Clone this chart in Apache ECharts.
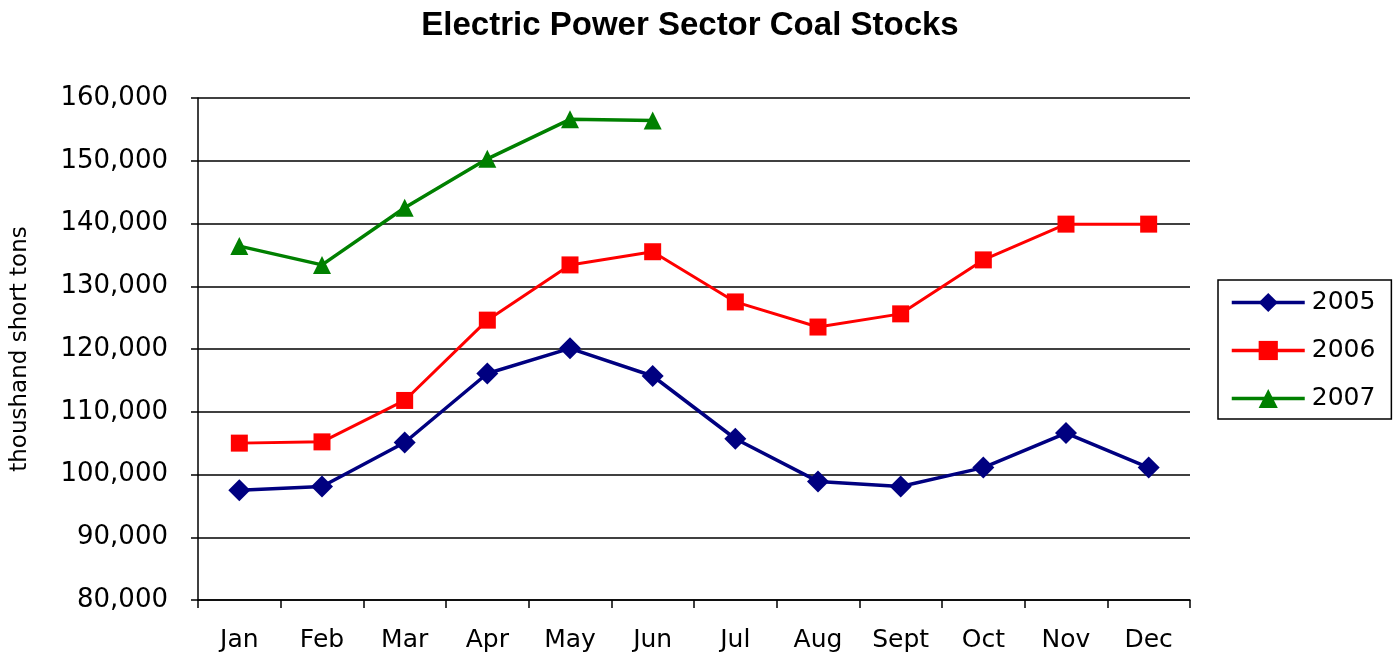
<!DOCTYPE html>
<html>
<head>
<meta charset="utf-8">
<script src="https://cdn.jsdelivr.net/npm/echarts@6/dist/echarts.min.js"></script>
<style>
  html, body { margin: 0; padding: 0; background: #fff; }
  #main { width: 1397px; height: 660px; }
</style>
</head>
<body>
<div id="main"></div>
<script>
// months on the x axis
const months = ['Jan', 'Feb', 'Mar', 'Apr', 'May', 'Jun', 'Jul', 'Aug', 'Sept', 'Oct', 'Nov', 'Dec'];
// thousand short tons
const stocks2005 = [97500, 98100, 105100, 116100, 120100, 115700, 105700, 98900, 98100, 101100, 106600, 101100];
const stocks2006 = [105000, 105200, 111800, 124600, 133400, 135500, 127500, 123500, 125600, 134200, 139900, 139900];
const stocks2007 = [136400, 133400, 142500, 150300, 156600, 156400, null, null, null, null, null, null];
const yTicks = [80000, 90000, 100000, 110000, 120000, 130000, 140000, 150000, 160000];

const font = 'DejaVu Sans, Verdana, sans-serif';

const myChart = echarts.init(document.getElementById('main'));
const option = {
  backgroundColor: '#fff',
  animation: false,
  title: {
    text: 'Electric Power Sector Coal Stocks',
    left: 685,
    textAlign: 'center',
    top: 4,
    textStyle: { fontFamily: 'Liberation Sans, Arial, sans-serif', fontSize: 33, fontWeight: 'bold', color: '#000' }
  },
  legend: {
    orient: 'vertical',
    left: 1218,
    top: 280,
    padding: [10, 16, 8, 12],
    itemGap: 23,
    itemWidth: 73,
    itemHeight: 24,
    borderColor: '#000',
    borderWidth: 1.5,
    lineStyle: { width: 3.5 },
    textStyle: { fontFamily: font, fontSize: 25, color: '#000', padding: [0, 0, 0, 2] },
    data: ['2005', '2006', '2007']
  },
  grid: { left: 198, right: 207, top: 98, bottom: 60, outerBoundsMode: 'none' },
  xAxis: {
    type: 'category',
    data: months,
    boundaryGap: true,
    axisLine: { lineStyle: { color: '#000', width: 1.5 } },
    axisTick: { show: true, length: 8, lineStyle: { color: '#000', width: 1.5 } },
    axisLabel: { fontFamily: font, fontSize: 25, color: '#000', margin: 28 }
  },
  yAxis: {
    type: 'value',
    min: yTicks[0],
    max: yTicks[yTicks.length - 1],
    interval: 10000,
    name: 'thoushand short tons',
    nameLocation: 'middle',
    nameGap: 166,
    nameTextStyle: { fontFamily: font, fontSize: 23, color: '#000' },
    axisLine: { show: true, lineStyle: { color: '#000', width: 1.5 } },
    axisTick: { show: true, length: 7, lineStyle: { color: '#000', width: 1.5 } },
    splitLine: { lineStyle: { color: '#000', width: 1.5 } },
    axisLabel: {
      fontFamily: font, fontSize: 26, color: '#000', margin: 30,
      formatter: v => v.toLocaleString('en-US')
    }
  },
  series: [
    {
      name: '2005', type: 'line', data: stocks2005,
      symbol: 'diamond', symbolSize: 22,
      lineStyle: { color: '#000080', width: 3.5 },
      itemStyle: { color: '#000080' }
    },
    {
      name: '2006', type: 'line', data: stocks2006,
      symbol: 'rect', symbolSize: 17,
      lineStyle: { color: '#ff0000', width: 3 },
      itemStyle: { color: '#ff0000' }
    },
    {
      name: '2007', type: 'line', data: stocks2007,
      symbol: 'triangle', symbolSize: 18,
      lineStyle: { color: '#008000', width: 3.5 },
      itemStyle: { color: '#008000' }
    }
  ]
};
option && myChart.setOption(option);
</script>
</body>
</html>
